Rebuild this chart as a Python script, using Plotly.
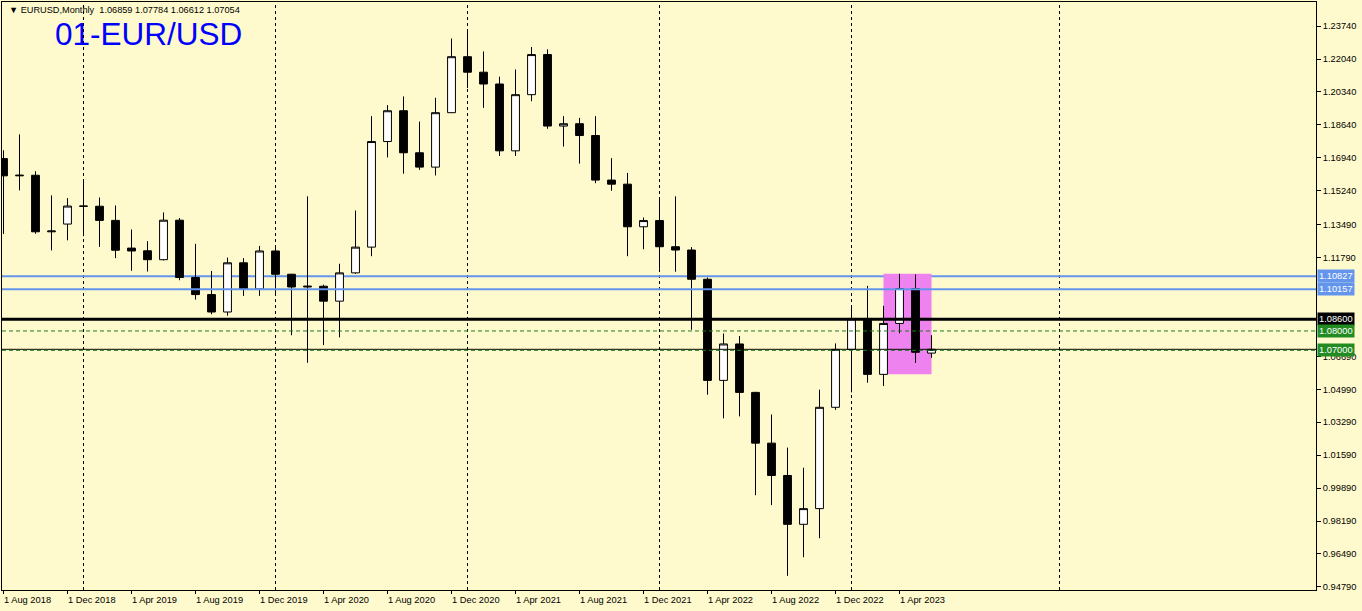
import plotly.graph_objects as go

# ---------------- data ----------------
months = [
    "2018-08", "2018-09", "2018-10", "2018-11", "2018-12",
    "2019-01", "2019-02", "2019-03", "2019-04", "2019-05", "2019-06",
    "2019-07", "2019-08", "2019-09", "2019-10", "2019-11", "2019-12",
    "2020-01", "2020-02", "2020-03", "2020-04", "2020-05", "2020-06",
    "2020-07", "2020-08", "2020-09", "2020-10", "2020-11", "2020-12",
    "2021-01", "2021-02", "2021-03", "2021-04", "2021-05", "2021-06",
    "2021-07", "2021-08", "2021-09", "2021-10", "2021-11", "2021-12",
    "2022-01", "2022-02", "2022-03", "2022-04", "2022-05", "2022-06",
    "2022-07", "2022-08", "2022-09", "2022-10", "2022-11", "2022-12",
    "2023-01", "2023-02", "2023-03", "2023-04", "2023-05", "2023-06",
]
opens = [
    1.1690, 1.1601, 1.1604, 1.1312, 1.1352,
    1.1445, 1.1444, 1.1371, 1.1228, 1.1214, 1.1168,
    1.1372, 1.1076, 1.0988, 1.0898, 1.1152, 1.1017,
    1.1213, 1.1093, 1.1027, 1.1031, 1.0954, 1.1100,
    1.1233, 1.1778, 1.1937, 1.1720, 1.1646, 1.1927,
    1.2216, 1.2136, 1.2075, 1.1730, 1.2020, 1.2227,
    1.1858, 1.1870, 1.1809, 1.1579, 1.1558, 1.1338,
    1.1370, 1.1235, 1.1218, 1.1067, 1.0545, 1.0733,
    1.0483, 1.0221, 1.0054, 0.9802, 0.9883, 1.0406,
    1.0705, 1.0863, 1.0576, 1.0839, 1.1019, 1.06859,
]
highs = [
    1.1733, 1.1815, 1.1625, 1.1500, 1.1486,
    1.1570, 1.1489, 1.1448, 1.1324, 1.1264, 1.1412,
    1.1383, 1.1250, 1.1110, 1.1179, 1.1176, 1.1239,
    1.1239, 1.1095, 1.1495, 1.1039, 1.1147, 1.1422,
    1.1909, 1.1966, 1.2011, 1.1881, 1.2004, 1.2310,
    1.2349, 1.2243, 1.2113, 1.2150, 1.2266, 1.2254,
    1.1909, 1.1900, 1.1909, 1.1692, 1.1616, 1.1386,
    1.1483, 1.1495, 1.1233, 1.1076, 1.0787, 1.0774,
    1.0486, 1.0369, 1.0198, 1.0094, 1.0497, 1.0736,
    1.0929, 1.1033, 1.0930, 1.1095, 1.1092, 1.07784,
]
lows = [
    1.1301, 1.1526, 1.1302, 1.1216, 1.1268,
    1.1289, 1.1234, 1.1176, 1.1111, 1.1107, 1.1164,
    1.1062, 1.0962, 1.0886, 1.0879, 1.0981, 1.0981,
    1.0992, 1.0778, 1.0636, 1.0727, 1.0767, 1.1095,
    1.1186, 1.1696, 1.1612, 1.1632, 1.1603, 1.1925,
    1.2054, 1.1952, 1.1704, 1.1704, 1.1986, 1.1844,
    1.1752, 1.1664, 1.1563, 1.1524, 1.1186, 1.1222,
    1.1121, 1.1106, 1.0806, 1.0471, 1.0349, 1.0359,
    0.9952, 0.9901, 0.9536, 0.9632, 0.9730, 1.0393,
    1.0483, 1.0533, 1.0516, 1.0788, 1.0635, 1.06612,
]
closes = [
    1.1601, 1.1604, 1.1312, 1.1316, 1.1445,
    1.1444, 1.1371, 1.1217, 1.1213, 1.1168, 1.1372,
    1.1076, 1.0988, 1.0898, 1.1152, 1.1017, 1.1213,
    1.1093, 1.1027, 1.1031, 1.0954, 1.1100, 1.1233,
    1.1778, 1.1937, 1.1720, 1.1646, 1.1927, 1.2216,
    1.2136, 1.2075, 1.1730, 1.2020, 1.2227, 1.1858,
    1.1870, 1.1809, 1.1579, 1.1558, 1.1338, 1.1370,
    1.1235, 1.1218, 1.1067, 1.0545, 1.0733, 1.0483,
    1.0221, 1.0054, 0.9802, 0.9883, 1.0406, 1.0705,
    1.0863, 1.0576, 1.0839, 1.1019, 1.0690, 1.07054,
]

y_ticks = [1.2374, 1.2204, 1.2034, 1.1864, 1.1694, 1.1524, 1.1349, 1.1179,
           1.0669, 1.0499, 1.0329, 1.0159, 0.9989, 0.9819, 0.9649, 0.9479]
x_label_months = ["2018-08", "2018-12", "2019-04", "2019-08", "2019-12",
                  "2020-04", "2020-08", "2020-12", "2021-04", "2021-08",
                  "2021-12", "2022-04", "2022-08", "2022-12", "2023-04"]
x_label_text = ["1 Aug 2018", "1 Dec 2018", "1 Apr 2019", "1 Aug 2019",
                "1 Dec 2019", "1 Apr 2020", "1 Aug 2020", "1 Dec 2020",
                "1 Apr 2021", "1 Aug 2021", "1 Dec 2021", "1 Apr 2022",
                "1 Aug 2022", "1 Dec 2022", "1 Apr 2023"]
# period separators as placed on the reference chart (last one in the future area)
separator_months = ["2019-01", "2020-01", "2021-01", "2022-01", "2023-01", "2024-02"]

blue_levels = [1.10827, 1.10157]
key_level = 1.08600
green_levels = [1.08000, 1.07000]
zone_months = ["2023-03", "2023-06"]
zone_prices = [1.0576, 1.1095]

symbol = "EURUSD,Monthly"
title_text = "01-EUR/USD"

# ---------------- helpers ----------------
def idx(m):
    y, mo = map(int, m.split("-"))
    y0, m0 = map(int, months[0].split("-"))
    return (y - y0) * 12 + (mo - m0)

FONT = "Liberation Sans, Arial, sans-serif"
BG = "#FFFACD"
x = [idx(m) for m in months]

fig = go.Figure()
fig.add_trace(go.Candlestick(
    x=x, open=opens, high=highs, low=lows, close=closes,
    increasing=dict(line=dict(color="black", width=1), fillcolor="white"),
    decreasing=dict(line=dict(color="black", width=1), fillcolor="black"),
    whiskerwidth=0, showlegend=False, hoverinfo="skip",
))

shapes = []
for gm in separator_months:
    shapes.append(dict(type="line", xref="x", yref="paper", x0=idx(gm), x1=idx(gm),
                       y0=0, y1=1, line=dict(color="black", width=1, dash="3px,3px"),
                       layer="below"))
shapes.append(dict(type="rect", xref="x", yref="y",
                   x0=idx(zone_months[0]), x1=idx(zone_months[1]),
                   y0=zone_prices[0], y1=zone_prices[1],
                   fillcolor="#EE82EE", line=dict(width=0), layer="below"))
shapes.append(dict(type="line", xref="paper", yref="y", x0=0, x1=1,
                   y0=blue_levels[0], y1=blue_levels[0],
                   line=dict(color="#6495ED", width=2), layer="below"))
shapes.append(dict(type="line", xref="paper", yref="y", x0=0, x1=1,
                   y0=blue_levels[1], y1=blue_levels[1],
                   line=dict(color="#6495ED", width=2), layer="above"))
shapes.append(dict(type="line", xref="paper", yref="y", x0=0, x1=1,
                   y0=key_level, y1=key_level,
                   line=dict(color="black", width=3), layer="above"))
shapes.append(dict(type="line", xref="paper", yref="y", x0=0, x1=1,
                   y0=closes[-1], y1=closes[-1],
                   line=dict(color="black", width=1), layer="above"))
for g in green_levels:
    shapes.append(dict(type="line", xref="paper", yref="y", x0=0, x1=1,
                       y0=g, y1=g,
                       line=dict(color="#1E7B1E", width=1, dash="4px,3px"),
                       layer="above"))

annotations = []
header = "\u25BC " + symbol + "\u00a0\u00a0" + " ".join(
    f"{v:.5f}" for v in (opens[-1], highs[-1], lows[-1], closes[-1]))
annotations.append(dict(xref="paper", yref="paper", x=0, y=1, xanchor="left",
                        yanchor="top", xshift=5, yshift=-1, text=header,
                        showarrow=False, font=dict(family=FONT, size=9.2, color="black")))
annotations.append(dict(xref="paper", yref="paper", x=0, y=1, xanchor="left",
                        yanchor="middle", xshift=51, yshift=-32, text=title_text,
                        showarrow=False, font=dict(family=FONT, size=31.5, color="#0000FF")))
for m, t in zip(x_label_months, x_label_text):
    annotations.append(dict(xref="x", yref="paper", x=idx(m), y=0, xanchor="left",
                            yanchor="top", xshift=-2, yshift=-3, text=t, showarrow=False,
                            font=dict(family=FONT, size=9.3, color="black")))
price_labels = [(blue_levels[0], "#6495ED"), (blue_levels[1], "#6495ED"),
                (key_level, "black"), (green_levels[0], "#228B22"),
                (green_levels[1], "#228B22")]
for v, c in price_labels:
    annotations.append(dict(xref="paper", yref="y", x=1, y=v, xanchor="left",
                            yanchor="middle", xshift=1, text=f"{v:.5f}",
                            showarrow=False, bgcolor=c, borderpad=1,
                            font=dict(family=FONT, size=9.3, color="white")))

fig.update_layout(
    width=1362, height=611,
    margin=dict(l=2, r=46, t=2, b=21),
    paper_bgcolor=BG, plot_bgcolor=BG,
    shapes=shapes, annotations=annotations,
    showlegend=False,
    xaxis=dict(range=[-0.094, 82.03], rangeslider=dict(visible=False),
               showgrid=False, zeroline=False,
               tickvals=[idx(m) for m in x_label_months], showticklabels=False,
               ticks="outside", ticklen=3, tickcolor="black",
               showline=True, mirror=True, linecolor="black", linewidth=1),
    yaxis=dict(range=[0.94628, 1.24984], side="right", showgrid=False,
               zeroline=False, tickvals=y_ticks,
               ticktext=[f"{v:.5f}" for v in y_ticks],
               ticks="outside", ticklen=4, tickcolor="black",
               tickfont=dict(family=FONT, size=9.3, color="black"),
               showline=True, mirror=True, linecolor="black", linewidth=1),
    font=dict(family=FONT),
)

fig.write_html(
    "out.html",
    config={"displayModeBar": False},
    post_script=("document.body.style.margin='0';"
                 "document.body.style.overflow='hidden';"
                 f"document.body.style.background='{BG}';"),
)
